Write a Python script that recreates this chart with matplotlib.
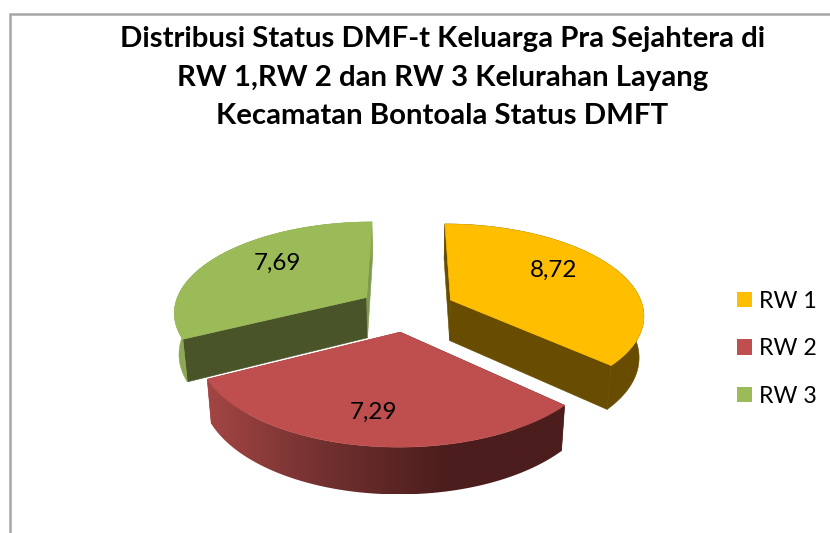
import numpy as np
import matplotlib
matplotlib.use('Agg')
import matplotlib.pyplot as plt
from matplotlib.colors import LinearSegmentedColormap
from matplotlib.patches import Patch, Polygon

plt.rcParams['font.family'] = ['Lato', 'DejaVu Sans']

# Data
categories = ['RW 1', 'RW 2', 'RW 3']
values = [8.72, 7.29, 7.69]
value_labels = ['8,72', '7,29', '7,69']
title_lines = ['Distribusi Status DMF-t Keluarga Pra Sejahtera di',
               'RW 1,RW 2 dan RW 3 Kelurahan Layang',
               'Kecamatan Bontoala Status DMFT']

# Colours per slice
top_colors = ['#FFBE00', '#BE4F4E', '#9BBB59']
arc_colors = ['#684C00', None, '#8DA852']
start_wall = ['#684C00', '#4E1E1E', '#4A5429']
end_wall = ['#684C00', '#9E4341', '#7F9A4C']
red_side = LinearSegmentedColormap.from_list('red_side', ['#A34644', '#70302F', '#4C1D1D', '#4C1D1D'])

# Projection of the tilted pie to pixels
CX, CY = 407, 309
A, B = 193, 90
K = 0.15
EXPLODE = 0.25


def project(u, v, bottom=False):
    s = 1 / (1 - K * v)
    x = A * u * s
    y = B * v * s
    if bottom:
        x = x * 0.98
        y = y + 41 + 5 * v
    return CX + x, CY + y


def poly(ax, x, y, color, z):
    p = Polygon(np.column_stack([x, y]), closed=True, facecolor=color,
                edgecolor=color, linewidth=0.4, zorder=z)
    ax.add_patch(p)
    return p


fig = plt.figure(figsize=(8.3, 5.33), dpi=100)
ax = fig.add_axes([0, 0, 1, 1])
ax.axis('off')

# Chart frame, runs off the right and bottom of the crop
ax.plot([9.5, 9.5, 830], [533, 13.5, 13.5], color='#A6A6A6', lw=1.8, solid_joinstyle='miter')

# Angles clockwise from the top
fractions = np.array(values) / sum(values)
ends = np.cumsum(fractions) * 2 * np.pi
starts = ends - fractions * 2 * np.pi

# Back to front
for order, i in enumerate([2, 0, 1]):
    z = 2 + order * 3
    mid = (starts[i] + ends[i]) / 2
    ou = EXPLODE * np.sin(mid)
    ov = -EXPLODE * np.cos(mid)
    th = np.linspace(starts[i], ends[i], 160)
    u = ou + np.sin(th)
    v = ov - np.cos(th)
    tx, ty = project(u, v)
    bx, by = project(u, v, bottom=True)
    ax0, ay0 = project(ou, ov)
    ax1, ay1 = project(ou, ov, bottom=True)

    # flat walls along the two straight edges
    poly(ax, [ax0, tx[0], bx[0], ax1], [ay0, ty[0], by[0], ay1], start_wall[i], z)
    poly(ax, [ax0, tx[-1], bx[-1], ax1], [ay0, ty[-1], by[-1], ay1], end_wall[i], z)

    # outer rim
    rim_x = np.r_[tx, bx[::-1]]
    rim_y = np.r_[ty, by[::-1]]
    if arc_colors[i] is not None:
        poly(ax, rim_x, rim_y, arc_colors[i], z + 1)
    else:
        rim = poly(ax, rim_x, rim_y, 'none', z + 1)
        grad = np.linspace(0, 1, 256).reshape(1, -1)
        ax.imshow(grad, cmap=red_side, aspect='auto', zorder=z + 1, clip_path=rim,
                  extent=(rim_x.min(), rim_x.max(), rim_y.max(), rim_y.min()))

    # top face
    poly(ax, np.r_[ax0, tx], np.r_[ay0, ty], top_colors[i], z + 2)

ax.set_xlim(0, 830)
ax.set_ylim(533, 0)

# Data labels
label_r = [0.64, 0.84, 0.6]
for i in range(3):
    mid = (starts[i] + ends[i]) / 2
    u = (EXPLODE + label_r[i]) * np.sin(mid)
    v = -(EXPLODE + label_r[i]) * np.cos(mid) - 0.1
    lx, ly = project(u, v)
    ax.text(lx, ly, value_labels[i], ha='center', va='center', fontsize=17.5, color='black', zorder=20)

# Title
for line, y in zip(title_lines, [39, 78, 116]):
    ax.text(442.5, y, line, ha='center', va='center', fontsize=21.2, fontweight='bold', color='black')

# Legend
handles = [Patch(facecolor=c, edgecolor='none') for c in top_colors]
ax.legend(handles, categories, loc='center left', bbox_to_anchor=(0.888, 0.346), frameon=False,
          fontsize=16.7, handlelength=0.65, handleheight=0.65, handletextpad=0.3,
          labelspacing=1.14, borderpad=0, borderaxespad=0)

fig.savefig('out.png', dpi=100)
